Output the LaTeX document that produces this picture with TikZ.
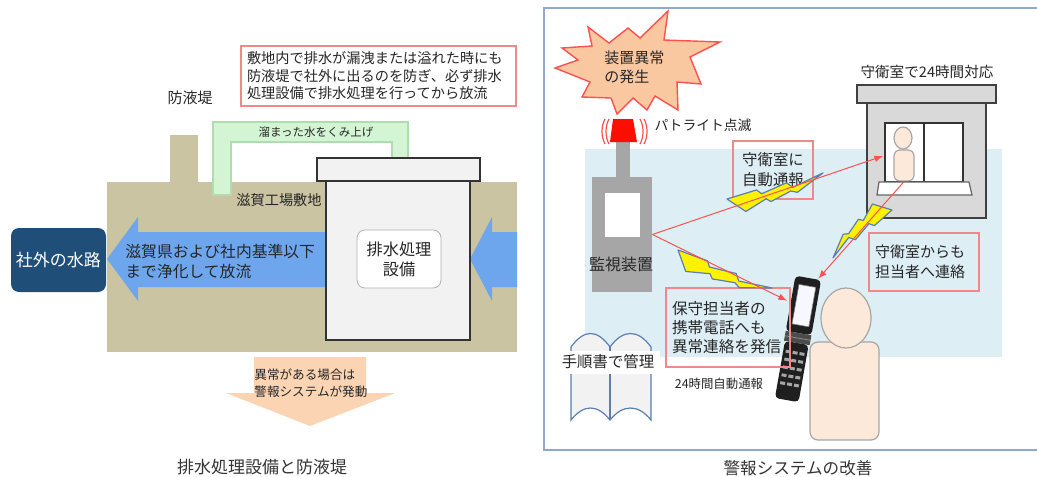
\documentclass[tikz,border=0pt]{standalone}
\usepackage{fontspec}
\setmainfont{Noto Sans CJK JP}
\usetikzlibrary{arrows}

\definecolor{ground}{HTML}{CBC4A2}
\definecolor{flow}{HTML}{6EA6EE}
\definecolor{navy}{HTML}{1F4E79}
\definecolor{peach}{HTML}{FBD4B4}
\definecolor{pipe}{HTML}{D3F5D3}
\definecolor{pipeline}{HTML}{B0DDB0}
\definecolor{tank}{HTML}{F2F2F2}
\definecolor{boxred}{HTML}{F08A8A}
\definecolor{frameblue}{HTML}{8EA9CB}
\definecolor{area}{HTML}{DEEEF5}
\definecolor{house}{HTML}{D9D9D9}
\definecolor{skin}{HTML}{FDE9D9}
\definecolor{device}{HTML}{A6A6A6}
\definecolor{boltline}{HTML}{5A7FB0}
\definecolor{burst}{HTML}{F9C7A0}
\definecolor{alarmred}{HTML}{FF5050}
\definecolor{ink}{HTML}{262626}

\newcommand{\jsize}[2]{\fontsize{#1}{#2}\selectfont}

\tikzstyle{memo} = [draw=boxred, line width=0.6pt, inner sep=3pt, text=ink]
\tikzstyle{txt} = [text=ink, inner sep=0pt]
\tikzstyle{alarm} = [draw=alarmred, line width=0.5pt, -latex]
\tikzstyle{person} = [draw=device, fill=skin, line width=0.6pt]
\tikzstyle{outline} = [draw=black!80, line width=0.7pt]
\tikzstyle{housing} = [draw=black!75, fill=house, line width=0.8pt]

\tikzset{pics/bolt/.style={code={
  \draw[fill=yellow, draw=boltline, line width=0.6pt, line join=round]
    (0,0) -- (0.31*#1,-1) -- (0.35*#1,4) -- (0.62*#1,0) -- (0.67*#1,6) -- (#1,0)
    -- (0.70*#1,12) -- (0.64*#1,9) -- (0.42*#1,14) -- (0.38*#1,10) -- (0.15*#1,17) -- cycle;
}}}

\begin{document}
\begin{tikzpicture}[x=0.5pt, y=-0.5pt]
\useasboundingbox (0,0) rectangle (1037,476);

% ---- drainage plant and dike ----
\fill[ground] (107,182) rectangle (517,352);
\fill[ground] (170,135) rectangle (198,182);
\draw[fill=pipe, draw=pipeline, line width=0.6pt]
  (213,195) -- (213,122) -- (408,122) -- (408,158) -- (392,158) -- (392,142) -- (231,142) -- (231,195) -- cycle;

% flows in and out of the plant
\fill[flow] (107,259) -- (138,217) -- (138,232) -- (330,232) -- (330,287) -- (138,287) -- (138,301) -- cycle;
\fill[flow] (470,259) -- (492,217) -- (492,232) -- (517,232) -- (517,287) -- (492,287) -- (492,301) -- cycle;

\draw[outline, fill=tank] (326,181) rectangle (470,340);
\draw[outline, fill=tank] (317,158) rectangle (480,181);
\node[draw=gray!60, fill=white, rounded corners=4pt, minimum width=42pt, minimum height=29pt,
      align=center, text=ink, inner sep=0pt, font=\jsize{8.1}{10}] (plant) at (399,259) {排水処理\\設備};

\node[fill=navy, rounded corners=4pt, minimum width=47.5pt, minimum height=32pt, text=white,
      inner sep=0pt, font=\jsize{8.5}{10}] (river) at (58.5,260) {社外の水路};

\fill[peach] (254,357) -- (366,357) -- (366,393) -- (395,393) -- (310,426) -- (226,393) -- (254,393) -- cycle;

\node[memo, text width=131.5pt, minimum height=30pt, align=left, font=\jsize{7.1}{8.75}] (note) at (378.5,76)
  {敷地内で排水が漏洩または溢れた時にも\\防液堤で社外に出るのを防ぎ、必ず排水\\処理設備で排水処理を行ってから放流};

% labels on the left
\node[txt, font=\jsize{7.5}{9}] (dike) at (190,98) {防液堤};
\node[txt, font=\jsize{5.75}{7}] (pump) at (316,132) {溜まった水をくみ上げ};
\node[txt, font=\jsize{7.1}{8}] (site) at (279,200) {滋賀工場敷地};
\node[txt, anchor=west, align=left, font=\jsize{7.9}{9.6}] (outflow) at (125,261.5) {滋賀県および社内基準以下\\まで浄化して放流};
\node[txt, anchor=west, align=left, font=\jsize{6.3}{8.5}] (trigger) at (254,383.5) {異常がある場合は\\警報システムが発動};
\node[text=black!80, inner sep=0pt, font=\jsize{8.5}{10}] (capleft) at (262,467) {排水処理設備と防液堤};

% ---- alarm system ----
\draw[frameblue, line width=1pt] (544,8) rectangle (1045,450);
\fill[area] (585,149) rectangle (1002,357);

% manual
\draw[draw=boltline, fill=tank, line width=0.6pt]
  (571,420) -- (571,347) .. controls (584,329) and (597,329) .. (610,347)
  .. controls (623,329) and (638,329) .. (651,347) -- (651,420)
  .. controls (638,404) and (623,404) .. (610,420)
  .. controls (597,404) and (584,404) .. (571,420) -- cycle;
\draw[draw=boltline, line width=0.6pt] (610,347) -- (610,420);
\node[fill=white, txt, minimum width=52pt, minimum height=11.5pt, font=\jsize{7.7}{9}] (manual) at (608,362) {手順書で管理};

% monitor with patrol light
\fill[device] (616,142) rectangle (630,178);
\node[fill=device, minimum width=30pt, minimum height=57.5pt, inner sep=0pt] (monitor) at (622,234.5) {};
\fill[white] (605,193) rectangle (640,237);
\node[txt, font=\jsize{8}{9}] (monlabel) at (621,264) {監視装置};
\fill[red!90!orange] (613,119) -- (633,119) -- (637,142) -- (610,142) -- cycle;
\draw[alarmred, line width=0.6pt] (605,119) .. controls (601,126) and (601,137) .. (605,144)
  (609,119) .. controls (605,126) and (605,137) .. (609,144);
\draw[alarmred, line width=0.6pt] (640,119) .. controls (644,126) and (644,137) .. (640,144)
  (644,119) .. controls (648,126) and (648,137) .. (644,144);

% guard house
\draw[housing] (867,103) rectangle (986,218);
\draw[housing] (857,85) rectangle (996,103);
\draw[outline, fill=white] (885,123) rectangle (963,182);
\draw[outline] (924,123) -- (924,182);
\draw[person] (903,138) ellipse (9 and 11);
\node[person, rounded corners=3pt, minimum width=10pt, minimum height=15.5pt, inner sep=0pt] (guardman) at (904,165.5) {};
\draw[draw=black!60, fill=white, line width=0.6pt] (879,182) -- (969,182) -- (972,195) -- (877,195) -- cycle;

% burst
\draw[fill=burst, draw=alarmred, line width=0.7pt, line join=miter]
  (588,27) -- (609,43) -- (628,28) -- (640,38) -- (668,11) -- (664,40) -- (720,42) -- (690,57)
  -- (701,84) -- (677,82) -- (678,110) -- (655,96) -- (647,110) -- (633,98) -- (617,114)
  -- (611,98) -- (582,97) -- (590,82) -- (555,68) -- (578,60) -- (562,48) -- (592,46) -- cycle;
\node[txt, anchor=west, align=left, font=\jsize{7.5}{9.5}] (burstlabel) at (604,67.5) {装置異常\\の発生};

% operator and mobile phone
\draw[person, rounded corners=4pt] (810,342) rectangle (879,440);
\draw[person] (846,318) ellipse (25 and 30);
\begin{scope}[shift={(797.5,339)}, rotate=-10]
  \fill[black!88, rounded corners=2pt] (-13,-62) rectangle (13,-6);
  \fill[black!88, rounded corners=2pt] (-12,4) rectangle (12,62);
  \fill[black!70] (-13,-6) rectangle (13,4);
  \draw[black!45, line width=0.4pt] (-13,-1) -- (13,-1);
  \draw[gray, fill=blue!3, line width=0.3pt] (-8,-54) rectangle (9,-14);
  \foreach \kx in {-7,0,7}
    \foreach \ky in {14,22,30,38,46}
      \fill[gray!70] (\kx-2.5,\ky-1.5) rectangle (\kx+2.5,\ky+1.5);
  \coordinate (phone side) at (-17,-36);
  \coordinate (phone top) at (10,-63);
\end{scope}

% notes on the right
\node[memo, minimum width=40pt, minimum height=29pt, align=center, font=\jsize{7.7}{10}] (tellguard) at (773,170) {守衛室に\\自動通報};
\node[memo, text width=49pt, minimum height=29pt, align=left, font=\jsize{7.5}{10}] (tellstaff) at (924,262) {守衛室からも\\担当者へ連絡};
\node[memo, text width=56pt, minimum height=39.5pt, align=left, font=\jsize{7.8}{9.5}] (tellphone) at (728,327.5) {保守担当者の\\携帯電話へも\\異常連絡を発信};

% radio links
\pic[rotate=15.2] at (727,199) {bolt=99.5};
\pic[rotate=-22] at (678,250) {bolt=101.4};
\pic[rotate=219.1] at (892,210) {bolt=76};

% alarm paths
\coordinate (guard in) at (883,156);
\draw[alarm] (monitor.east) -- (guard in);
\draw[alarm] (monitor.east) -- (phone side);
\draw[alarm] (guardman.south) -- (phone top);

\node[txt, font=\jsize{6.9}{8}] (lamp) at (703,125) {パトライト点滅};
\node[txt, font=\jsize{7.3}{8}] (duty) at (927,72) {守衛室で24時間対応};
\node[txt, font=\jsize{6.2}{7}] (auto) at (719,384) {24時間自動通報};
\node[text=black!80, inner sep=0pt, font=\jsize{8.3}{10}] (capright) at (798,468) {警報システムの改善};
\end{tikzpicture}
\end{document}
